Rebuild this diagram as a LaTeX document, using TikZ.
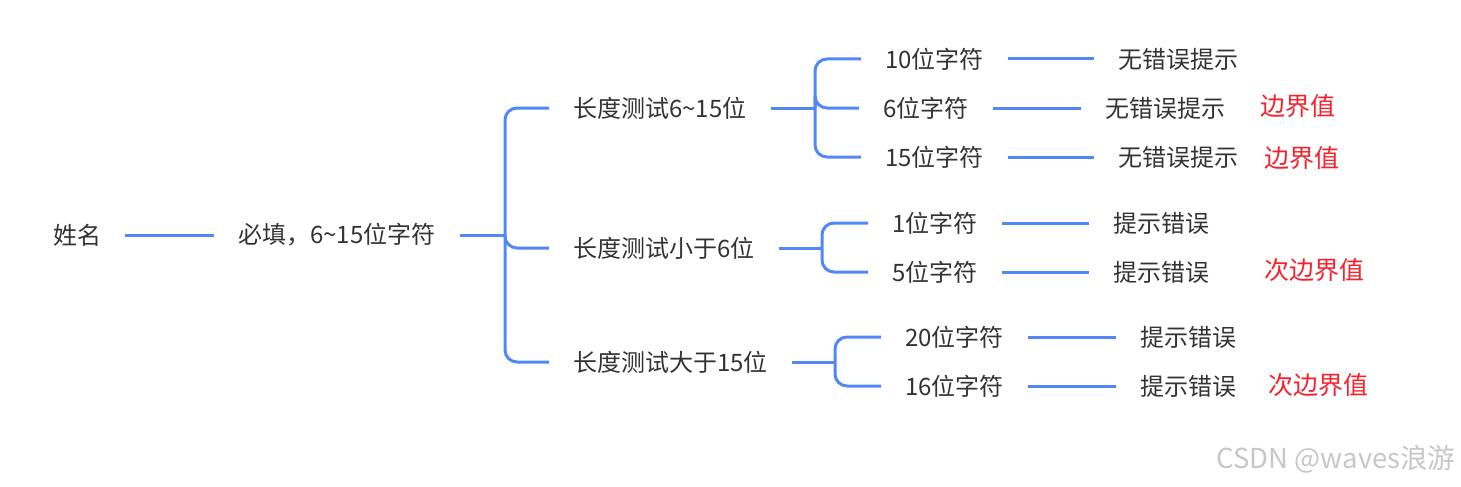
\documentclass[tikz,border=0pt]{standalone}
\usepackage{fontspec}
\setmainfont{Noto Sans CJK SC}
\usepackage{xcolor}
\definecolor{linkblue}{HTML}{5287F7}
\definecolor{txtgray}{HTML}{333333}
\definecolor{notered}{HTML}{F5222D}

\begin{document}
\begin{tikzpicture}[x=1pt, y=-1pt,
    item/.style={anchor=west, inner xsep=24pt, inner ysep=2pt, text=txtgray, font=\fontsize{24}{28}\selectfont},
    note/.style={text=notered, font=\fontsize{25}{29}\selectfont},
    link/.style={draw=linkblue, line width=3pt, rounded corners=12pt}]
            \useasboundingbox (0,0) rectangle (1461,487);

            % Root
            \node[item] (name) at (29,235) {姓名};
            \node[item] (rule) at (214,235) {必填，6\textasciitilde15位字符};
            \draw[link] (name) -- (rule);

            % Length tests
            \coordinate (j1) at (505,235);
            \node[item] (len1) at (549,108) {长度测试6\textasciitilde15位};
            \node[item] (len2) at (549,248) {长度测试小于6位};
            \node[item] (len3) at (549,362) {长度测试大于15位};
            \draw[link] (rule.east) -- (j1);
            \foreach \t in {len1,len2,len3}
                \draw[link] (j1) |- (\t.west);

            % 6~15
            \coordinate (j2) at (815,108);
            \node[item] (c10) at (861,59) {10位字符};
            \node[item] (c6) at (859,108) {6位字符};
            \node[item] (c15) at (861,157) {15位字符};
            \draw[link] (len1.east) -- (j2);
            \foreach \t in {c10,c6,c15}
                \draw[link] (j2) |- (\t.west);
            \node[item] (ok10) at (1094,59) {无错误提示};
            \node[item] (ok6) at (1081,108) {无错误提示};
            \node[item] (ok15) at (1094,157) {无错误提示};
            \draw[link] (c10) -- (ok10);
            \draw[link] (c6) -- (ok6);
            \draw[link] (c15) -- (ok15);

            % less than 6
            \coordinate (j3) at (822,248);
            \node[item] (c1) at (868,223) {1位字符};
            \node[item] (c5) at (868,272) {5位字符};
            \draw[link] (len2.east) -- (j3);
            \foreach \t in {c1,c5}
                \draw[link] (j3) |- (\t.west);
            \node[item] (err1) at (1089,223) {提示错误};
            \node[item] (err5) at (1089,272) {提示错误};
            \draw[link] (c1) -- (err1);
            \draw[link] (c5) -- (err5);

            % more than 15
            \coordinate (j4) at (835,362);
            \node[item] (c20) at (881,337) {20位字符};
            \node[item] (c16) at (881,386) {16位字符};
            \draw[link] (len3.east) -- (j4);
            \foreach \t in {c20,c16}
                \draw[link] (j4) |- (\t.west);
            \node[item] (err20) at (1116,337) {提示错误};
            \node[item] (err16) at (1116,386) {提示错误};
            \draw[link] (c20) -- (err20);
            \draw[link] (c16) -- (err16);

            % Notes
            \node[note] (b6) at (1298,106) {边界值};
            \node[note] (b15) at (1302,158) {边界值};
            \node[note] (sb5) at (1314,270) {次边界值};
            \node[note] (sb16) at (1318,385) {次边界值};

            % Watermark
            \node[text=black!22, font=\fontsize{27.5}{31}\selectfont] (mark) at (1336,459) {CSDN @waves浪游};
        \end{tikzpicture}
\end{document}
